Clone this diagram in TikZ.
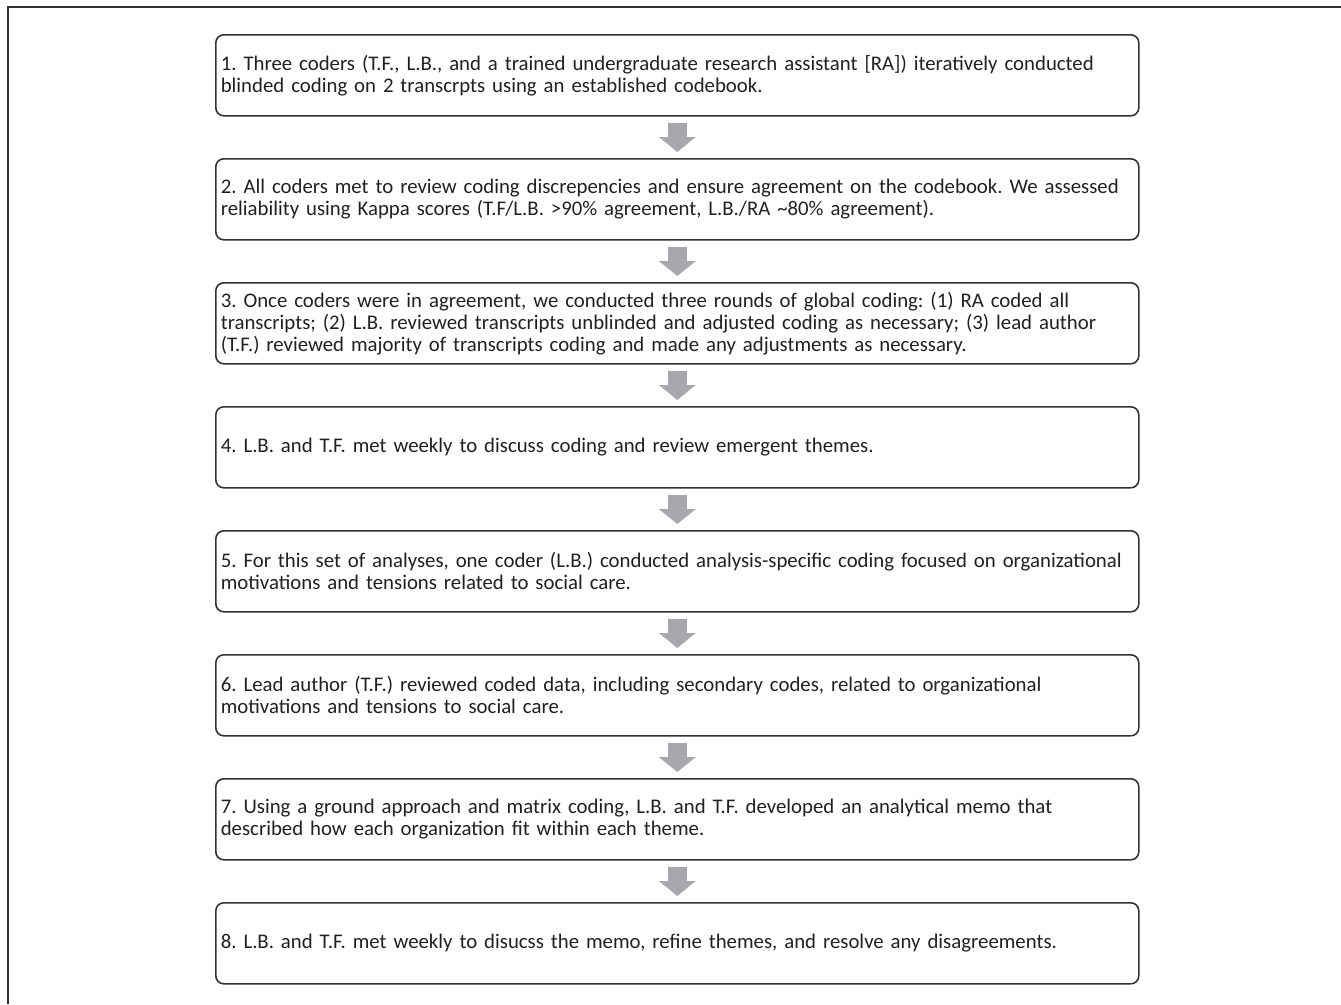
\documentclass[tikz,border=0pt]{standalone}
\usepackage{fontspec}
\setmainfont{Carlito}
\usetikzlibrary{arrows.meta,positioning}

\definecolor{boxline}{HTML}{333333}
\definecolor{arrowgray}{HTML}{A6A8AD}
\definecolor{txtgray}{HTML}{231F20}

\begin{document}
\frenchspacing
\begin{tikzpicture}[x=1pt,y=1pt,node distance=41.4pt,
  stepbox/.style={draw=boxline,line width=1.6pt,rounded corners=8pt,
    minimum width=923pt,minimum height=81pt,text width=913pt,
    inner xsep=5pt,align=left,text=txtgray,
    font=\fontsize{20.8}{22}\selectfont},
  blockarrow/.style={color=arrowgray,line width=19pt,
    -{Triangle[width=37pt,length=15pt,line width=0pt,fill=arrowgray]},
    shorten <=6pt,shorten >=6pt}]
  \useasboundingbox (0,0) rectangle (1341,-1004);
  % frame
  \draw[line width=1.3pt,boxline] (8,-1004) -- (8,-7) -- (1341,-7);

  \node[stepbox,anchor=north west] (one) at (215,-34)
    {1. Three coders (T.F., L.B., and a trained undergraduate research assistant [RA]) iteratively conducted\\
     blinded coding on 2 transcrpts using an established codebook.};
  \node[stepbox] (two) [below=of one]
    {2. All coders met to review coding discrepencies and ensure agreement on the codebook. We assessed\\
     reliability using Kappa scores (T.F/L.B. >90\% agreement, L.B./RA \textasciitilde80\% agreement).};
  \node[stepbox] (three) [below=of two]
    {3. Once coders were in agreement, we conducted three rounds of global coding: (1) RA coded all\\
     transcripts; (2) L.B. reviewed transcripts unblinded and adjusted coding as necessary; (3) lead author\\
     (T.F.) reviewed majority of transcripts coding and made any adjustments as necessary.};
  \node[stepbox] (four) [below=of three]
    {4. L.B. and T.F. met weekly to discuss coding and review emergent themes.};
  \node[stepbox] (five) [below=of four]
    {5. For this set of analyses, one coder (L.B.) conducted analysis-specific coding focused on organizational\\
     motivations and tensions related to social care.};
  \node[stepbox] (six) [below=of five]
    {6. Lead author (T.F.) reviewed coded data, including secondary codes, related to organizational\\
     motivations and tensions to social care.};
  \node[stepbox] (seven) [below=of six]
    {7. Using a ground approach and matrix coding, L.B. and T.F. developed an analytical memo that\\
     described how each organization fit within each theme.};
  \node[stepbox] (eight) [below=of seven]
    {8. L.B. and T.F. met weekly to disucss the memo, refine themes, and resolve any disagreements.};

  \path[blockarrow] (one) edge (two);
  \path[blockarrow] (two) edge (three);
  \path[blockarrow] (three) edge (four);
  \path[blockarrow] (four) edge (five);
  \path[blockarrow] (five) edge (six);
  \path[blockarrow] (six) edge (seven);
  \path[blockarrow] (seven) edge (eight);
\end{tikzpicture}
\end{document}
